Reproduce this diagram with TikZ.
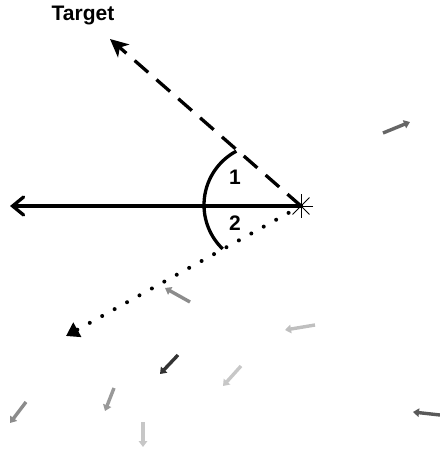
\documentclass[tikz,border=0pt]{standalone}
\usepackage{fontspec}
\setmainfont{Liberation Sans}
\usetikzlibrary{arrows.meta}
\begin{document}
\begin{tikzpicture}[x=1pt,y=-1pt,
  lbl/.style={font=\bfseries\fontsize{21}{21}\selectfont, inner sep=0pt},
  mainline/.style={line width=3.3pt},
  swarm/.style={line width=3.4pt, -{Triangle[length=6pt,width=8.5pt]}},
  startick/.style={line width=0.8pt}]
\useasboundingbox (0,0) rectangle (439,452);
% centre star
\node[inner sep=0pt, minimum size=0pt] (c) at (301,206) {};
\foreach \a in {0,45,90,135}
  \draw[startick] ([shift={(\a:12pt)}]c.center) -- ([shift={(\a+180:12pt)}]c.center);
% end points
\coordinate (left) at (10,206);
\coordinate (tgt) at (110,39);
\coordinate (tri) at (66,336);
% solid arrow
\draw[mainline, line cap=round, -{Straight Barb[length=11pt,width=18pt,line cap=round]}] (c.center) -- (left);
% dashed target arrow
\draw[mainline, dash pattern=on 18pt off 11pt, -{Stealth[length=18pt,width=17pt,inset=5pt]}] (c.center) -- (tgt);
% dotted arrow
\draw[mainline, line width=4pt, line cap=round, dash pattern=on 0pt off 14.2pt, -{Triangle[length=13pt,width=16pt]}] (c.center) -- (tri);
% arc
\draw[mainline] (265,205) ++(-118:61) arc[start angle=-118, end angle=-226, radius=61];
% labels
\node[lbl] (n1) at (235,177.5) {1};
\node[lbl] (n2) at (235,223) {2};
\node[lbl] (target) at (83,16) {Target};
% small arrows
\coordinate (a1s) at (383,133); \coordinate (a1e) at (410,122);
\coordinate (a2s) at (190,302); \coordinate (a2e) at (165,288);
\coordinate (a3s) at (315,325); \coordinate (a3e) at (285,330);
\coordinate (a4s) at (178,355); \coordinate (a4e) at (160,374);
\coordinate (a5s) at (241,366); \coordinate (a5e) at (223,386);
\coordinate (a6s) at (26,402);  \coordinate (a6e) at (10,423);
\coordinate (a7s) at (114,388); \coordinate (a7e) at (105,411);
\coordinate (a8s) at (143,422); \coordinate (a8e) at (143,447);
\coordinate (a9s) at (440,415); \coordinate (a9e) at (413,412);
\draw[swarm, color=black!60] (a1s) -- (a1e);
\draw[swarm, color=black!45] (a2s) -- (a2e);
\draw[swarm, color=black!25] (a3s) -- (a3e);
\draw[swarm, color=black!80] (a4s) -- (a4e);
\draw[swarm, color=black!22] (a5s) -- (a5e);
\draw[swarm, color=black!45] (a6s) -- (a6e);
\draw[swarm, color=black!40] (a7s) -- (a7e);
\draw[swarm, color=black!22] (a8s) -- (a8e);
\draw[swarm, color=black!65] (a9s) -- (a9e);
\end{tikzpicture}
\end{document}
